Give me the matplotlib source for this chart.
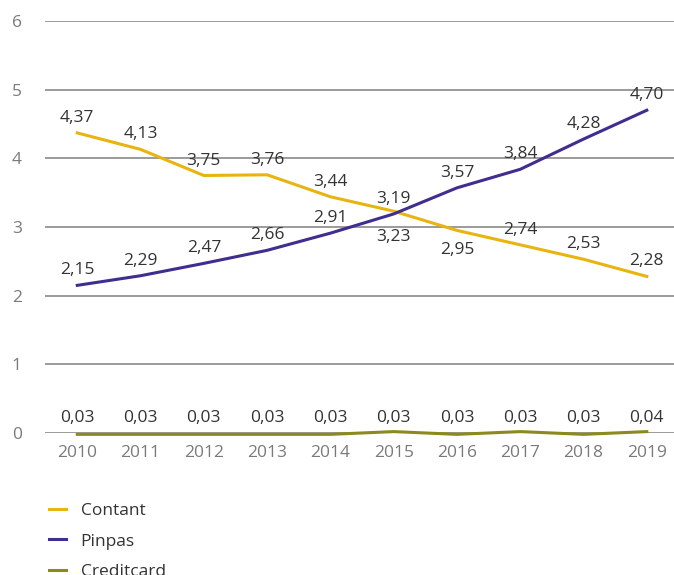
import matplotlib
matplotlib.use("Agg")
import matplotlib.pyplot as plt

jaren = [2010, 2011, 2012, 2013, 2014, 2015, 2016, 2017, 2018, 2019]
contant = [4.37, 4.13, 3.75, 3.76, 3.44, 3.23, 2.95, 2.74, 2.53, 2.28]
pinpas = [2.15, 2.29, 2.47, 2.66, 2.91, 3.19, 3.57, 3.84, 4.28, 4.70]
# lijn zoals getekend in de bron (wijkt licht af van de labels)
creditcard_lijn = [-0.02, -0.02, -0.02, -0.02, -0.02, 0.02, -0.02, 0.02, -0.02, 0.02]
creditcard_labels = [0.03, 0.03, 0.03, 0.03, 0.03, 0.03, 0.03, 0.03, 0.03, 0.04]

kleur_contant = "#e8b40f"
kleur_pinpas = "#3f2d8f"
kleur_credit = "#8b8a1e"
tekst = "#333333"
fs = 12.5

plt.rcParams["font.family"] = ["Open Sans", "DejaVu Sans"]


def fmt(v):
    return f"{v:.2f}".replace(".", ",")


fig = plt.figure(figsize=(6.74, 5.75), dpi=100)
ax = fig.add_axes([0.0668, 0.247, 0.9332, 0.7165])

ax.plot(jaren, contant, color=kleur_contant, lw=2.2, label="Contant", zorder=3)
ax.plot(jaren, pinpas, color=kleur_pinpas, lw=2.2, label="Pinpas", zorder=3)
ax.plot(jaren, creditcard_lijn, color=kleur_credit, lw=2.2, label="Creditcard",
        zorder=3, clip_on=False)

# Contant: 2015 en 2016 staan onder de lijn
onder = {2015: -13, 2016: -8}
for j, v in zip(jaren, contant):
    if j in onder:
        ax.annotate(fmt(v), (j, v), xytext=(0, onder[j]), textcoords="offset points",
                    ha="center", va="top", fontsize=fs, color=tekst)
    else:
        ax.annotate(fmt(v), (j, v), xytext=(0, 5), textcoords="offset points",
                    ha="center", va="bottom", fontsize=fs, color=tekst)
for j, v in zip(jaren, pinpas):
    ax.annotate(fmt(v), (j, v), xytext=(0, 5), textcoords="offset points",
                ha="center", va="bottom", fontsize=fs, color=tekst)
for j, v in zip(jaren, creditcard_labels):
    ax.annotate(fmt(v), (j, 0), xytext=(0, 5), textcoords="offset points",
                ha="center", va="bottom", fontsize=fs, color=tekst)

ax.set_xlim(2009.49, 2019.43)
ax.set_ylim(0, 6)
ax.set_yticks(range(0, 7))
ax.set_xticks(jaren)
ax.grid(axis="y", color="#8a8a8a", lw=1.2)
ax.set_axisbelow(True)
for s in ax.spines.values():
    s.set_visible(False)
ax.tick_params(length=0, labelsize=fs, labelcolor="#7a7a7a")
ax.tick_params(axis="x", pad=9)
for t in ax.get_yticklabels():
    t.set_horizontalalignment("left")
ax.yaxis.set_tick_params(pad=24)

fig.legend(loc="upper left", bbox_to_anchor=(0.05, 0.153), frameon=False,
           fontsize=fs, handlelength=0.95, handletextpad=0.85,
           labelspacing=0.84, labelcolor=tekst)

fig.savefig("out.png", dpi=100)
